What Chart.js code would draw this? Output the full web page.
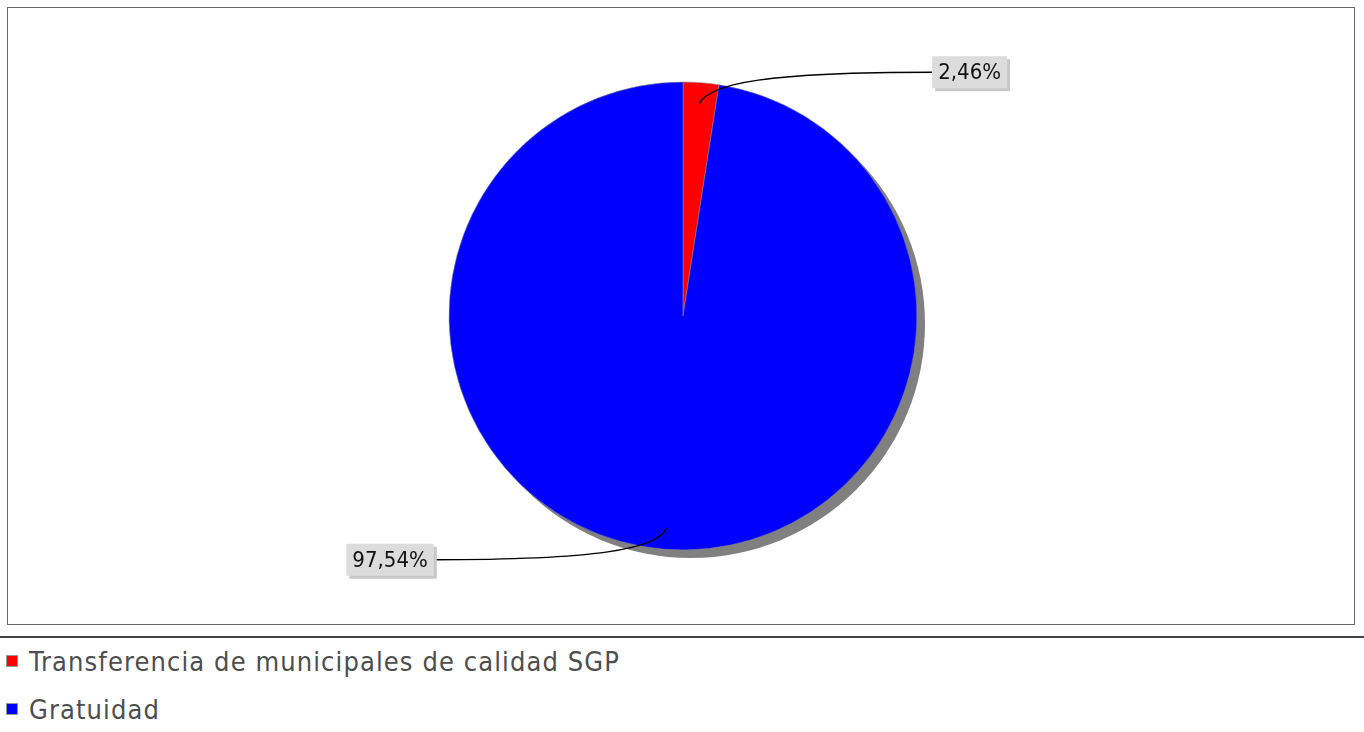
<!DOCTYPE html>
<html>
<head>
<meta charset="utf-8">
<script src="https://cdn.jsdelivr.net/npm/chart.js@4/dist/chart.umd.min.js"></script>
<style>
  html, body { margin: 0; padding: 0; background: #fff; }
  body { width: 1364px; height: 732px; position: relative; overflow: hidden; }
  #plotBox {
    position: absolute; left: 7px; top: 7px;
    width: 1346px; height: 616px;
    border: 1px solid #666;
  }
  #sep {
    position: absolute; left: 0; top: 636px; width: 1364px; height: 0;
    border-top: 2px solid #444;
  }
  #legend {
    position: absolute; left: 6px; top: 644px;
    font-family: 'DejaVu Sans Condensed', 'DejaVu Sans', sans-serif;
    font-size: 27px; letter-spacing: 1.1px; color: #4d4d4d;
  }
  .item { height: 48px; line-height: 36px; white-space: nowrap; }
  .swatch {
    display: inline-block; width: 10px; height: 10px; margin-right: 11px;
    vertical-align: 4px; border: 1px solid #999;
  }
</style>
</head>
<body>
<div id="plotBox"><canvas id="pieChart"></canvas></div>
<div id="sep"></div>
<div id="legend"></div>

<script>
// --- data ---
const categories = ['Transferencia de municipales de calidad SGP', 'Gratuidad'];
const percentValues = [2.46, 97.54];
const sliceColors = ['#ff0000', '#0000ff'];

function fmtPct(v) {
    return v.toFixed(2).replace('.', ',') + '%';
}

// shadow behind the pie + curved link labels
const pieExtras = {
    id: 'pieExtras',
    beforeDatasetsDraw(chart) {
        const arc = chart.getDatasetMeta(0).data[0];
        if (!arc) return;
        const ctx = chart.ctx;
        ctx.save();
        ctx.fillStyle = '#808080';
        ctx.beginPath();
        ctx.arc(arc.x + 8, arc.y + 8, arc.outerRadius, 0, Math.PI * 2);
        ctx.fill();
        ctx.restore();
    },
    afterDatasetsDraw(chart) {
        const ctx = chart.ctx;
        const meta = chart.getDatasetMeta(0);
        ctx.save();
        ctx.font = '22px "DejaVu Sans Condensed", "DejaVu Sans", sans-serif';
        meta.data.forEach((arc, i) => {
            const R = arc.outerRadius;
            const mid = (arc.startAngle + arc.endAngle) / 2;
            const c = Math.cos(mid), s = Math.sin(mid);
            const right = c >= 0;
            const sx = arc.x + c * R * 0.91, sy = arc.y + s * R * 0.91;
            const ex = right ? arc.x + R * 1.065 : arc.x - R * 1.065;
            const ey = arc.y + s * R * 1.045;

            // link
            ctx.strokeStyle = '#000';
            ctx.lineWidth = 1.4;
            ctx.beginPath();
            ctx.moveTo(sx, sy);
            ctx.bezierCurveTo(arc.x + c * R * 1.0 + (right ? 8 : -8), arc.y + s * R * 1.0,
                              sx + (ex - sx) * 0.3, ey, ex, ey);
            ctx.stroke();

            // label box
            const txt = fmtPct(percentValues[i]);
            const tw = ctx.measureText(txt).width;
            const bw = tw + 12, bh = 32;
            const bx = right ? ex : ex - bw;
            const by = ey - bh / 2;
            ctx.fillStyle = '#c8c8c8';
            ctx.fillRect(bx + 3, by + 3, bw, bh);
            ctx.fillStyle = '#dcdcdc';
            ctx.fillRect(bx, by, bw, bh);
            ctx.fillStyle = '#111';
            ctx.textAlign = 'center';
            ctx.textBaseline = 'middle';
            ctx.fillText(txt, bx + bw / 2, by + bh / 2 + 1);
        });
        ctx.restore();
    }
};

new Chart(document.getElementById('pieChart'), {
    type: 'pie',
    data: {
        labels: categories,
        datasets: [{
            data: percentValues,
            backgroundColor: sliceColors,
            borderColor: 'rgba(140,140,140,0.7)',
            borderWidth: 0.8,
            radius: 234
        }]
    },
    options: {
        responsive: true,
        maintainAspectRatio: false,
        animation: false,
        layout: { padding: { left: 4 } },
        plugins: {
            legend: { display: false },
            tooltip: { enabled: false }
        }
    },
    plugins: [pieExtras]
});

// legend built from the same arrays
document.getElementById('legend').innerHTML = categories.map((name, i) => `
    <div class="item"><span class="swatch" style="background:${sliceColors[i]}"></span>${name}</div>
`).join('');
</script>
</body>
</html>
